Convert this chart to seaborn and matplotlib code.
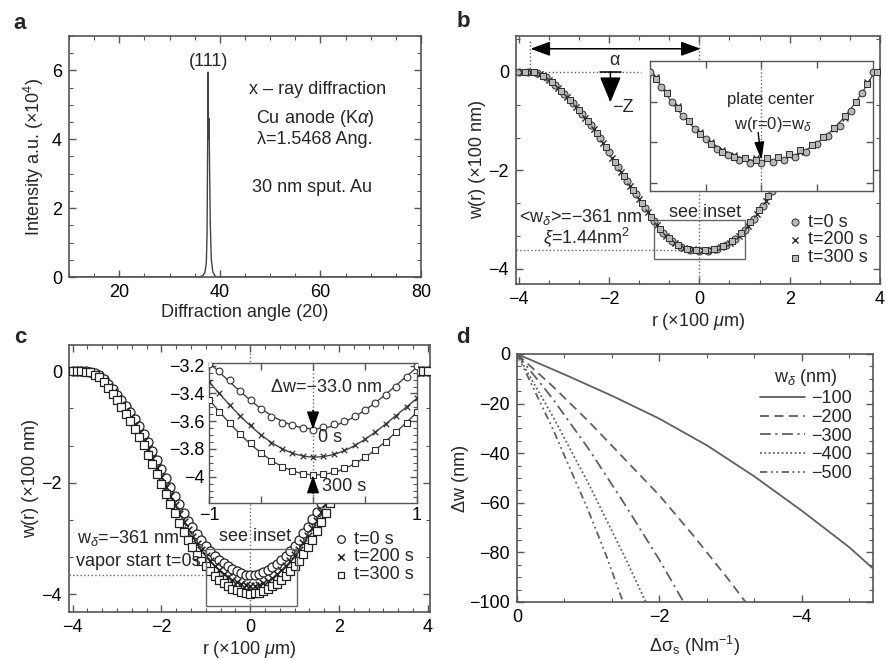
import numpy as np
import pandas as pd
import matplotlib
matplotlib.use("Agg")
import matplotlib.pyplot as plt
from matplotlib import ticker
from matplotlib.patches import Rectangle
import seaborn as sns

sns.set_theme(style="ticks")
plt.rcParams["font.family"] = ["Liberation Sans", "DejaVu Sans"]
plt.rcParams.update({
    "mathtext.fontset": "custom",
    "mathtext.rm": "Liberation Sans",
    "mathtext.it": "Liberation Sans:italic",
    "mathtext.bf": "Liberation Sans:bold",
    "font.size": 13,
    "axes.labelsize": 13,
    "xtick.labelsize": 13,
    "ytick.labelsize": 13,
    "axes.unicode_minus": True,
})

# ---------------- (a) x-ray diffraction ----------------
xrd_angle = [10, 30, 35, 36.0, 36.6, 37.0, 37.3, 37.45, 37.55, 37.65, 37.75,
             37.85, 37.95, 38.1, 38.3, 38.6, 39.0, 39.5, 40, 50, 80]
xrd_intensity = [0, 0, 0, 0.01, 0.04, 0.12, 0.4, 1.2, 3.5, 5.95, 4.0,
                 4.6, 3.2, 1.5, 0.5, 0.15, 0.03, 0.0, 0, 0, 0]

# ---------------- (b) deflection profiles ----------------
b_r_t0 = np.round(np.arange(-4.0, 4.01, 0.2), 2)
b_r_t200 = np.round(np.arange(-3.93, 3.88, 0.2), 2)
b_r_t300 = np.round(np.arange(-3.87, 3.94, 0.2), 2)
b_w_t0 = [0.00, 0.00, -0.02, -0.11, -0.27, -0.45, -0.64, -0.85, -1.08, -1.34,
          -1.63, -1.93, -2.22, -2.49, -2.76, -3.03, -3.27, -3.44, -3.55, -3.61,
          -3.63,
          -3.63, -3.59, -3.51, -3.39, -3.21, -2.98, -2.72, -2.43, -2.13, -1.83,
          -1.53, -1.24, -0.98, -0.74, -0.53, -0.34, -0.18, -0.06, -0.01, 0.00]
b_w_t200 = [0.00, -0.01, -0.05, -0.17, -0.33, -0.52, -0.71, -0.93, -1.17, -1.44,
            -1.74, -2.03, -2.31, -2.58, -2.85, -3.11, -3.33, -3.48, -3.57, -3.60,
            -3.61, -3.62, -3.56, -3.47, -3.33, -3.13, -2.89, -2.62, -2.33, -2.03,
            -1.73, -1.43, -1.15, -0.90, -0.67, -0.46, -0.28, -0.14, -0.04, 0.00]
b_w_t300 = [0.00, -0.01, -0.08, -0.21, -0.39, -0.57, -0.78, -1.00, -1.25, -1.53,
            -1.83, -2.12, -2.40, -2.67, -2.94, -3.19, -3.38, -3.51, -3.59, -3.61,
            -3.62, -3.60, -3.54, -3.43, -3.27, -3.06, -2.81, -2.53, -2.24, -1.94,
            -1.64, -1.34, -1.07, -0.82, -0.60, -0.41, -0.24, -0.10, -0.03, 0.00]

# (b) inset: centre region of the plate
bi_r_t0 = np.round(np.arange(-1.0, 1.01, 0.1), 2)
bi_r_t = np.round(np.arange(-0.95, 0.96, 0.1), 2)
bi_w_t0 = [-3.07, -3.16, -3.25, -3.34, -3.42, -3.48, -3.54, -3.58, -3.61, -3.63,
           -3.63, -3.62, -3.61, -3.59, -3.56, -3.51, -3.46, -3.40, -3.31, -3.20, -3.07]
bi_w_t200 = [-3.10, -3.19, -3.28, -3.37, -3.44, -3.50, -3.55, -3.58, -3.60, -3.60,
             -3.60, -3.59, -3.58, -3.56, -3.52, -3.47, -3.42, -3.35, -3.25, -3.13]
bi_w_t300 = [-3.11, -3.20, -3.29, -3.37, -3.45, -3.51, -3.56, -3.59, -3.60, -3.61,
             -3.60, -3.59, -3.57, -3.55, -3.52, -3.47, -3.41, -3.34, -3.25, -3.14]

w_delta_b = -3.61       # <w_delta> = -361 nm
r_edge = -3.74          # clamped plate edge

# ---------------- (c) profiles during vapour exposure ----------------
c_r = np.round(np.arange(-4.0, 4.01, 0.1), 2)
c_w_t0 = [0.00, 0.00, 0.00, 0.00, -0.01, -0.03, -0.06, -0.14, -0.23, -0.32,
          -0.42, -0.52, -0.62, -0.73, -0.85, -0.98, -1.12, -1.27, -1.43, -1.59,
          -1.76, -1.92, -2.07, -2.23, -2.39, -2.54, -2.68, -2.80, -2.92, -3.03,
          -3.13, -3.22, -3.31, -3.38, -3.44, -3.50, -3.55, -3.59, -3.62, -3.65,
          -3.66, -3.65, -3.63, -3.60, -3.56, -3.51, -3.45, -3.38, -3.31, -3.22,
          -3.13, -3.02, -2.91, -2.79, -2.66, -2.52, -2.37, -2.21, -2.05, -1.90,
          -1.74, -1.58, -1.42, -1.26, -1.11, -0.97, -0.84, -0.72, -0.60, -0.50,
          -0.40, -0.31, -0.22, -0.14, -0.08, -0.04, -0.02, -0.01, 0.00, 0.00,
          0.00]
c_w_t200 = [0.00, 0.00, 0.00, -0.01, -0.02, -0.05, -0.10, -0.18, -0.28, -0.38,
            -0.49, -0.60, -0.71, -0.83, -0.96, -1.10, -1.25, -1.40, -1.56, -1.73,
            -1.90, -2.07, -2.24, -2.40, -2.56, -2.71, -2.85, -2.98, -3.10, -3.21,
            -3.31, -3.41, -3.49, -3.57, -3.64, -3.70, -3.75, -3.79, -3.82, -3.84,
            -3.85, -3.85, -3.83, -3.80, -3.76, -3.71, -3.64, -3.57, -3.49, -3.40,
            -3.30, -3.20, -3.08, -2.96, -2.82, -2.68, -2.53, -2.37, -2.21, -2.05,
            -1.88, -1.72, -1.55, -1.39, -1.23, -1.08, -0.94, -0.81, -0.69, -0.57,
            -0.47, -0.37, -0.28, -0.19, -0.12, -0.07, -0.04, -0.02, 0.00, 0.00,
            0.00]
c_w_t300 = [0.00, 0.00, 0.00, -0.01, -0.02, -0.06, -0.11, -0.20, -0.30, -0.41,
            -0.52, -0.64, -0.76, -0.89, -1.03, -1.18, -1.33, -1.50, -1.67, -1.85,
            -2.03, -2.21, -2.38, -2.55, -2.72, -2.88, -3.03, -3.16, -3.29, -3.40,
            -3.50, -3.59, -3.67, -3.74, -3.80, -3.85, -3.90, -3.93, -3.96, -3.98,
            -3.99, -3.98, -3.97, -3.94, -3.91, -3.86, -3.81, -3.74, -3.67, -3.59,
            -3.50, -3.40, -3.28, -3.16, -3.02, -2.87, -2.71, -2.54, -2.37, -2.20,
            -2.02, -1.84, -1.66, -1.49, -1.32, -1.16, -1.01, -0.87, -0.74, -0.62,
            -0.50, -0.39, -0.29, -0.20, -0.12, -0.07, -0.03, -0.01, 0.00, 0.00,
            0.00]

ci_r = np.round(np.arange(-1.0, 1.01, 0.1), 2)
ci_w_t0 = [-3.19, -3.24, -3.30, -3.38, -3.45, -3.51, -3.57, -3.61, -3.63, -3.65,
           -3.66, -3.64, -3.62, -3.60, -3.56, -3.52, -3.47, -3.41, -3.35, -3.28, -3.20]
ci_w_t200 = [-3.32, -3.40, -3.48, -3.56, -3.63, -3.70, -3.76, -3.80, -3.83, -3.85,
             -3.86, -3.85, -3.84, -3.81, -3.77, -3.73, -3.68, -3.62, -3.56, -3.50, -3.43]
ci_w_t300 = [-3.45, -3.53, -3.61, -3.69, -3.76, -3.83, -3.89, -3.93, -3.96, -3.98,
             -3.99, -3.98, -3.96, -3.94, -3.90, -3.86, -3.81, -3.75, -3.68, -3.61, -3.53]

w_delta_c = -3.66
w_min_t300 = -3.99

# ---------------- (d) model: dw vs surface stress ----------------
sigma_100 = [0, -0.67, -1.33, -2.0, -2.67, -3.33, -4.0, -4.67, -5.0]
dw_100 = [0, -8.3, -16.8, -26.1, -36.9, -49.3, -63.2, -78.0, -86.5]
sigma_200 = [0, -0.5, -1.0, -1.5, -2.0, -2.5, -3.0, -3.21]
dw_200 = [0, -13, -27, -42, -57, -74, -92, -100]
sigma_300 = [0, -0.5, -1.0, -1.5, -2.0, -2.34]
dw_300 = [0, -18, -38, -60, -83, -100]
sigma_400 = [0, -0.5, -1.0, -1.5, -1.81]
dw_400 = [0, -25, -52, -81, -100]
sigma_500 = [0, -0.5, -1.0, -1.25, -1.49]
dw_500 = [0, -30, -63, -81, -100]
w_labels = ["\u2212100", "\u2212200", "\u2212300", "\u2212400", "\u2212500"]

SPINE = "#555555"
GUIDE = "#666666"


def style_axes(ax, xminor, yminor, lw=1.2):
    ax.tick_params(which="both", direction="in", top=True, right=True,
                   color=SPINE, labelcolor="black")
    ax.tick_params(which="major", length=5, width=1.0, pad=5)
    ax.tick_params(which="minor", length=3, width=0.8)
    if xminor:
        ax.xaxis.set_minor_locator(ticker.AutoMinorLocator(xminor))
    if yminor:
        ax.yaxis.set_minor_locator(ticker.AutoMinorLocator(yminor))
    for s in ax.spines.values():
        s.set_visible(True)
        s.set_color(SPINE)
        s.set_linewidth(lw)


def minus_fmt(v, pos):
    return f"{v:g}".replace("-", "\u2212")


fig = plt.figure(figsize=(8.86, 6.6), dpi=100)
ax_a = fig.add_axes([0.0779, 0.5803, 0.3973, 0.3652])
ax_b = fig.add_axes([0.5824, 0.5697, 0.4108, 0.3758])
ax_c = fig.add_axes([0.0779, 0.0727, 0.4074, 0.4045])
ax_d = fig.add_axes([0.5835, 0.0879, 0.4018, 0.3758])
ax_bi = fig.add_axes([0.7336, 0.7106, 0.2517, 0.1970])
ax_ci = fig.add_axes([0.2359, 0.2379, 0.2348, 0.2121])

# ---- (a)
sns.lineplot(x=xrd_angle, y=xrd_intensity, ax=ax_a, color="#444444", lw=1.0,
             sort=False, estimator=None)
ax_a.set_xlim(10, 80)
ax_a.set_ylim(0, 7)
ax_a.set_xticks([20, 40, 60, 80])
ax_a.set_yticks([0, 2, 4, 6])
style_axes(ax_a, 4, 4)
ax_a.set_xlabel("Diffraction angle (20)", labelpad=2)
ax_a.set_ylabel("Intensity a.u. (\u00d710$^4$)", labelpad=4)
ax_a.text(37.7, 6.26, "(111)", ha="center", va="center")
ax_a.text(59.5, 5.44, "x \u2013 ray diffraction", ha="center", va="center")
ax_a.text(58.9, 4.6, "Cu anode (K$\\alpha$)", ha="center", va="center")
ax_a.text(58.9, 3.99, "\u03bb=1.5468 Ang.", ha="center", va="center")
ax_a.text(58.3, 2.59, "30 nm sput. Au", ha="center", va="center")

# ---- (b)
mk_fill = "#b8b8b8"
mk_edge = "#2f2f2f"
sns.scatterplot(x=b_r_t0, y=b_w_t0, ax=ax_b, marker="o", s=26, color=mk_fill,
                edgecolor=mk_edge, linewidth=0.7, label="t=0 s", zorder=3)
sns.scatterplot(x=b_r_t200, y=b_w_t200, ax=ax_b, marker="x", s=20, color=mk_edge,
                linewidth=1.0, label="t=200 s", zorder=3)
sns.scatterplot(x=b_r_t300, y=b_w_t300, ax=ax_b, marker="s", s=20, color=mk_fill,
                edgecolor=mk_edge, linewidth=0.7, label="t=300 s", zorder=3)
ax_b.set_xlim(-4.06, 4.0)
ax_b.set_ylim(-4.31, 0.73)
ax_b.set_xticks([-4, -2, 0, 2, 4])
ax_b.set_yticks([-4, -2, 0])
style_axes(ax_b, 3, 3)
ax_b.set_xlabel("r (\u00d7100 $\\mu$m)", labelpad=2)
ax_b.set_ylabel("w(r) (\u00d7100 nm)", labelpad=2)
ax_b.legend(loc="lower right", bbox_to_anchor=(1.0, 0.02), frameon=False,
            handletextpad=0.1, labelspacing=0.05, borderpad=0.2,
            handlelength=1.2, fontsize=13, markerscale=1.0)
# guides
ax_b.plot([r_edge, -1.3], [0, 0], ls=":", color=GUIDE, lw=1.0)
ax_b.plot([-4.06, -0.05], [w_delta_b, w_delta_b], ls=":", color=GUIDE, lw=1.0)
ax_b.plot([0, 0], [-4.31, 0.73], ls=":", color=GUIDE, lw=1.0)
ax_b.plot([r_edge, r_edge], [0, 0.62], ls=":", color=GUIDE, lw=1.0)
ax_b.annotate("", xy=(r_edge, 0.47), xytext=(0.03, 0.47),
              arrowprops=dict(arrowstyle="<|-|>,head_length=0.6,head_width=0.22",
                              mutation_scale=20, color="black", lw=1.1,
                              shrinkA=0, shrinkB=0))
ax_b.plot([-2.2, -1.74], [0, 0], color="black", lw=1.1)
ax_b.annotate("", xy=(-1.97, -0.62), xytext=(-1.97, 0.0),
              arrowprops=dict(arrowstyle="-|>,head_length=0.8,head_width=0.33",
                              mutation_scale=20, color="black", lw=1.1,
                              shrinkA=0, shrinkB=0))
ax_b.text(-1.89, 0.24, "\u03b1", ha="center", va="center")
ax_b.text(-1.7, -0.73, "\u2212Z", ha="center", va="center")
ax_b.text(-2.62, -2.95, "<w$_\\delta$>=\u2212361 nm", ha="center", va="center")
ax_b.text(-2.5, -3.35, "$\\xi$=1.44nm$^2$", ha="center", va="center")
ax_b.add_patch(Rectangle((-1.0, -3.81), 2.01, 0.81, fill=False,
                         edgecolor=GUIDE, lw=1.0, zorder=4))
ax_b.text(0.12, -3.02, "see inset", ha="center", va="bottom")

# ---- (b) inset
sns.scatterplot(x=bi_r_t0, y=bi_w_t0, ax=ax_bi, marker="o", s=24, color=mk_fill,
                edgecolor=mk_edge, linewidth=0.7, zorder=3)
sns.scatterplot(x=bi_r_t, y=bi_w_t200, ax=ax_bi, marker="x", s=18, color=mk_edge,
                linewidth=1.0, zorder=3)
sns.scatterplot(x=bi_r_t, y=bi_w_t300, ax=ax_bi, marker="s", s=18, color=mk_fill,
                edgecolor=mk_edge, linewidth=0.7, zorder=3)
fit_r = np.concatenate([bi_r_t0, bi_r_t, bi_r_t])
fit_w = np.concatenate([bi_w_t0, bi_w_t200, bi_w_t300])
coef = np.polyfit(fit_r, fit_w, 4)
rr = np.linspace(-1, 1, 200)
sns.lineplot(x=rr, y=np.polyval(coef, rr), ax=ax_bi, color="#555555", lw=1.0,
             zorder=2)
ax_bi.set_xlim(-1, 1)
ax_bi.set_ylim(-3.8, -3.0)
ax_bi.set_xticks([-0.5, 0, 0.5])
ax_bi.set_yticks([-3.75, -3.5, -3.25])
ax_bi.tick_params(labelbottom=False, labelleft=False)
style_axes(ax_bi, None, None, lw=1.0)
ax_bi.set_xlabel("")
ax_bi.set_ylabel("")
ax_bi.plot([0, 0], [-3.8, -3.0], ls=":", color=GUIDE, lw=1.0)
ax_bi.text(0.08, -3.24, "plate center", ha="center", va="center", fontsize=12)
ax_bi.text(0.1, -3.39, "w(r=0)=w$_\\delta$", ha="center", va="center", fontsize=12)
ax_bi.annotate("", xy=(0.0, w_delta_b), xytext=(-0.03, -3.44),
               arrowprops=dict(arrowstyle="-|>,head_length=1.1,head_width=0.3",
                               mutation_scale=10, color="black", lw=1.0,
                               shrinkA=0, shrinkB=0))

# ---- (c)
c_fill = "white"
c_edge = "#222222"
sns.scatterplot(x=c_r, y=c_w_t0, ax=ax_c, marker="o", s=42, color=c_fill,
                edgecolor=c_edge, linewidth=0.9, label="t=0 s", zorder=3)
sns.scatterplot(x=c_r, y=c_w_t200, ax=ax_c, marker="x", s=30, color=c_edge,
                linewidth=1.1, label="t=200 s", zorder=3)
sns.scatterplot(x=c_r, y=c_w_t300, ax=ax_c, marker="s", s=34, color=c_fill,
                edgecolor=c_edge, linewidth=0.9, label="t=300 s", zorder=3)
ax_c.set_xlim(-4.08, 4.05)
ax_c.set_ylim(-4.32, 0.47)
ax_c.set_xticks([-4, -2, 0, 2, 4])
ax_c.set_yticks([-4, -2, 0])
style_axes(ax_c, 6, 3)
ax_c.set_xlabel("r (\u00d7100 $\\mu$m)", labelpad=2)
ax_c.set_ylabel("w(r) (\u00d7100 nm)", labelpad=2)
ax_c.legend(loc="lower right", bbox_to_anchor=(0.99, 0.06), frameon=False,
            handletextpad=0.1, labelspacing=0.05, borderpad=0.2,
            handlelength=1.2, fontsize=13, markerscale=0.85)
ax_c.plot([-4.08, 0], [w_delta_c, w_delta_c], ls=":", color=GUIDE, lw=1.0, zorder=2)
ax_c.plot([0, 0], [-4.32, 0.47], ls=":", color=GUIDE, lw=1.0, zorder=2)
ax_c.add_patch(Rectangle((-1.0, -4.21), 2.05, 1.02, fill=False,
                         edgecolor=GUIDE, lw=1.0, zorder=4))
ax_c.text(0.11, -3.12, "see inset", ha="center", va="bottom", zorder=5)
ax_c.text(-3.91, -3.0, "w$_\\delta$=\u2212361 nm", ha="left", va="center", zorder=5)
ax_c.text(-3.93, -3.41, "vapor start t=0s", ha="left", va="center", zorder=5)

# ---- (c) inset
sns.scatterplot(x=ci_r, y=ci_w_t0, ax=ax_ci, marker="o", s=24, color=c_fill,
                edgecolor="#333333", linewidth=0.8, zorder=3)
sns.scatterplot(x=ci_r, y=ci_w_t200, ax=ax_ci, marker="x", s=16, color="#333333",
                linewidth=0.9, zorder=3)
sns.scatterplot(x=ci_r, y=ci_w_t300, ax=ax_ci, marker="s", s=22, color=c_fill,
                edgecolor="#333333", linewidth=0.8, zorder=3)
for series in (ci_w_t0, ci_w_t200, ci_w_t300):
    cc = np.polyfit(ci_r, series, 4)
    sns.lineplot(x=rr, y=np.polyval(cc, rr), ax=ax_ci, color="#444444", lw=1.0,
                 zorder=2)
ax_ci.set_xlim(-1, 1)
ax_ci.set_ylim(-4.19, -3.18)
ax_ci.set_xticks([-1, -0.5, 0, 0.5, 1])
ax_ci.set_xticklabels(["\u22121", "", "", "", "1"])
ax_ci.set_yticks([-4.0, -3.8, -3.6, -3.4, -3.2])
ax_ci.yaxis.set_major_formatter(ticker.FuncFormatter(minus_fmt))
style_axes(ax_ci, None, 4, lw=1.0)
ax_ci.tick_params(which="major", labelsize=13, pad=3)
ax_ci.set_xlabel("")
ax_ci.set_ylabel("")
ax_ci.plot([0, 0], [-4.19, -3.18], ls=":", color=GUIDE, lw=1.0)
ax_ci.text(0.13, -3.36, "\u0394w=\u221233.0 nm", ha="center", va="center")
ax_ci.annotate("", xy=(0.0, w_delta_c), xytext=(0.0, -3.52),
               arrowprops=dict(arrowstyle="-|>,head_length=1.1,head_width=0.38",
                               mutation_scale=10, color="black", lw=1.0,
                               shrinkA=0, shrinkB=0))
ax_ci.annotate("", xy=(0.0, w_min_t300), xytext=(0.0, -4.12),
               arrowprops=dict(arrowstyle="-|>,head_length=1.1,head_width=0.38",
                               mutation_scale=10, color="black", lw=1.0,
                               shrinkA=0, shrinkB=0))
ax_ci.text(0.05, -3.72, "0 s", ha="left", va="center")
ax_ci.text(0.09, -4.07, "300 s", ha="left", va="center")

# ---- (d)
d_frames = []
for lab, xs, ys in zip(w_labels,
                       [sigma_100, sigma_200, sigma_300, sigma_400, sigma_500],
                       [dw_100, dw_200, dw_300, dw_400, dw_500]):
    d_frames.append(pd.DataFrame({"sigma": xs, "dw": ys, "w": lab}))
df_d = pd.concat(d_frames, ignore_index=True)
dash_map = {
    w_labels[0]: "",
    w_labels[1]: (5, 3),
    w_labels[2]: (6, 2.5, 1.2, 2.5),
    w_labels[3]: (1, 1.4),
    w_labels[4]: (4, 2, 1, 2, 1, 2),
}
sns.lineplot(data=df_d, x="sigma", y="dw", style="w", style_order=w_labels,
             dashes=dash_map, color="#606060", lw=1.3, ax=ax_d, sort=False,
             estimator=None, legend=False)
ax_d.set_xlim(0, -5)
ax_d.set_ylim(-100, 0)
ax_d.set_xticks([0, -2, -4])
ax_d.set_yticks([-100, -80, -60, -40, -20, 0])
style_axes(ax_d, 3, 4)
ax_d.set_xlabel("\u0394\u03c3$_\\mathrm{s}$ (Nm$^{-1}$)", labelpad=6)
ax_d.set_ylabel("\u0394w (nm)", labelpad=0)
ax_d.legend(handles=ax_d.get_lines()[:5], labels=w_labels,
            title="w$_\\delta$ (nm)", loc="upper right",
            bbox_to_anchor=(0.97, 0.99), frameon=False, handlelength=2.5,
            handletextpad=0.3, labelspacing=0.1, borderpad=0.1,
            fontsize=13, title_fontsize=13)

# panel letters
for lab, x, y in [("a", 0.0226, 0.965), ("b", 0.5226, 0.968),
                  ("c", 0.0226, 0.489), ("d", 0.5226, 0.489)]:
    fig.text(x, y, lab, ha="center", va="center", fontsize=16, fontweight="bold")

fig.savefig("out.png", dpi=100)
